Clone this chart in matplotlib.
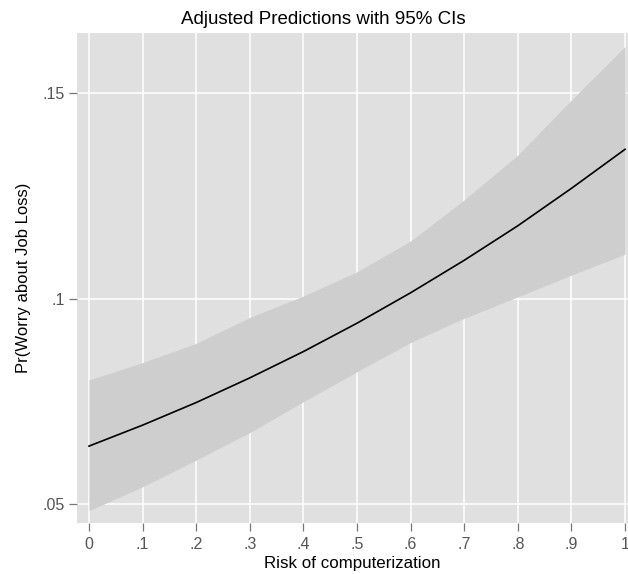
import numpy as np
import matplotlib.pyplot as plt

plt.rcParams['font.family'] = ['Liberation Sans', 'DejaVu Sans']

# margins at risk of computerization 0, .1, ..., 1
risk = [0, .1, .2, .3, .4, .5, .6, .7, .8, .9, 1]
pred = [.0641, .0692, .0747, .0807, .0871, .0940, .1014, .1093, .1177, .1268, .1363]
ci_lo = [.0484, .0542, .0607, .0674, .0749, .0822, .0893, .0952, .1004, .1057, .1108]
ci_hi = [.0802, .0844, .0891, .0954, .1006, .1065, .1140, .1240, .1349, .1483, .1613]

xticks = [0, .1, .2, .3, .4, .5, .6, .7, .8, .9, 1]
xticklabels = ['0', '.1', '.2', '.3', '.4', '.5', '.6', '.7', '.8', '.9', '1']
yticks = [.05, .1, .15]
yticklabels = ['.05', '.1', '.15']

fig = plt.figure(figsize=(6.28, 5.74), dpi=100)
ax = fig.add_axes([0.1226, 0.0889, 0.8774, 0.8536])
ax.set_facecolor('#e0e0e0')

ax.fill_between(risk, ci_lo, ci_hi, color='#cecece', lw=0, zorder=2)
ax.plot(risk, pred, color='black', lw=1.2, zorder=3)

ax.set_xlim(-0.0224, 1.0056)
ax.set_ylim(0.0454, 0.1646)
ax.set_xticks(xticks)
ax.set_xticklabels(xticklabels)
ax.set_yticks(yticks)
ax.set_yticklabels(yticklabels)
ax.grid(True, color='white', lw=1.1, zorder=1)
ax.set_axisbelow(True)
for s in ax.spines.values():
    s.set_visible(False)
ax.tick_params(length=6, width=0.9, color='#777777', labelcolor='#555555',
               labelsize=11.5, pad=3)
ax.tick_params(axis='x', pad=4)

fig.text(0.515, 0.958, 'Adjusted Predictions with 95% CIs', fontsize=13.5,
         ha='center', va='baseline')
ax.set_xlabel('Risk of computerization', fontsize=12.2, labelpad=3)
ax.set_ylabel('Pr(Worry about Job Loss)', fontsize=12, labelpad=8)

fig.savefig('out.png', dpi=100)
